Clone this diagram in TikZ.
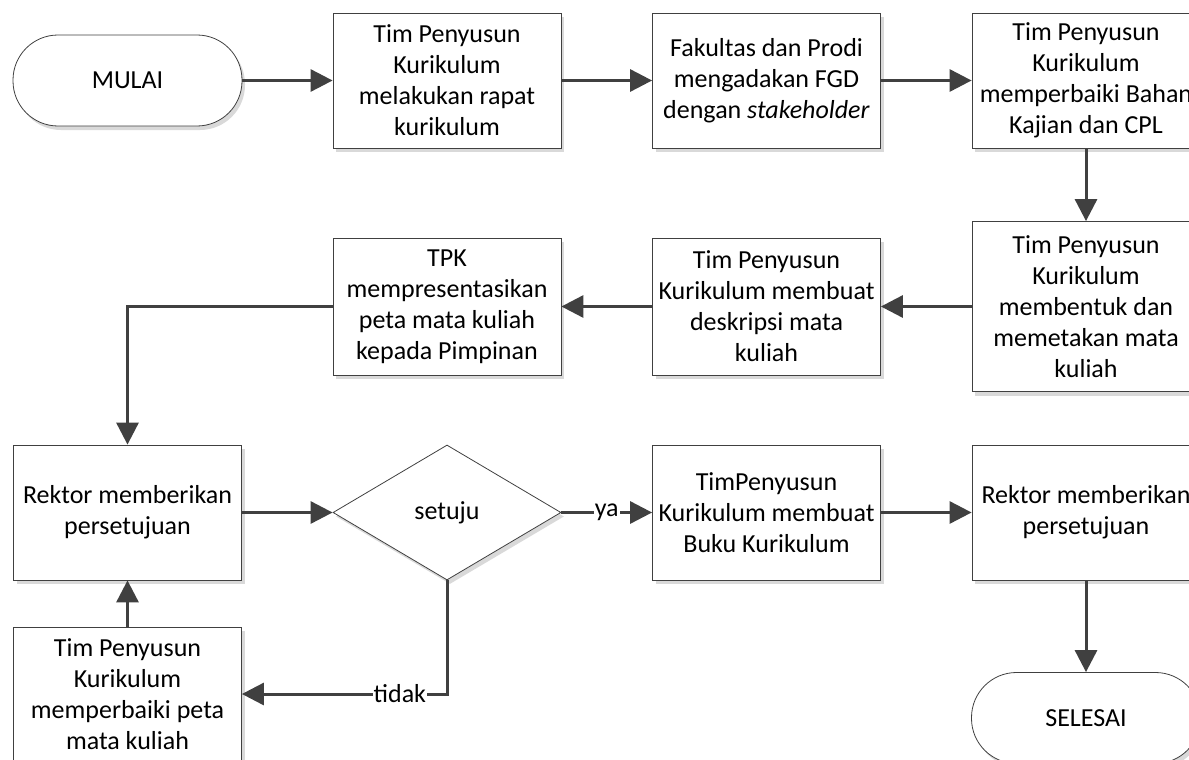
\documentclass[tikz,border=0pt]{standalone}
\usepackage{fontspec}
\setmainfont{Carlito}
\usetikzlibrary{shapes.geometric,shadows,arrows.meta}
\definecolor{ln}{HTML}{404040}
\begin{document}
\begin{tikzpicture}[x=1pt,y=-1pt,
 every node/.style={font=\fontsize{26}{31}\selectfont, text=black},
 sh/.style={drop shadow={shadow xshift=3pt,shadow yshift=-4pt,fill=black!15,opacity=1}},
 box/.style={draw=ln, line width=0.8pt, fill=white, sh, align=center, minimum width=228pt, minimum height=135pt, inner sep=1pt},
 term/.style={draw=ln, line width=0.8pt, fill=white, sh, rounded corners=45pt, minimum width=229pt, minimum height=91pt},
 dec/.style={diamond, draw=ln, line width=0.8pt, fill=white, sh, aspect=1.69, minimum width=228pt, minimum height=135pt, inner sep=0pt},
 arr/.style={draw=ln, line width=3pt, -{Triangle[length=22pt,width=22pt]}},
 lbl/.style={fill=white, inner sep=1pt}]
\clip (0,0) rectangle (1189,760);
\node[term] (mulai) at (127.5,80.5) {MULAI};
\node[box] (b1) at (447,80.5) {Tim Penyusun\\Kurikulum\\melakukan rapat\\kurikulum};
\node[box] (b2) at (766.5,80.5) {Fakultas dan Prodi\\mengadakan FGD\\dengan \textit{stakeholder}};
\node[box] (b3) at (1086,80.5) {Tim Penyusun\\Kurikulum\\memperbaiki Bahan\\Kajian dan CPL};
\node[box, minimum height=170pt] (b4) at (1086,306.5) {Tim Penyusun\\Kurikulum\\membentuk dan\\memetakan mata\\kuliah};
\node[box, minimum height=137pt] (b5) at (766.5,306.5) {Tim Penyusun\\Kurikulum membuat\\deskripsi mata\\kuliah};
\node[box, minimum height=137pt] (b6) at (447,306.5) {TPK\\mempresentasikan\\peta mata kuliah\\kepada Pimpinan};
\node[box] (r1) at (127.5,512.5) {Rektor memberikan\\persetujuan};
\node[dec] (d) at (447,512.5) {setuju};
\node[box] (b7) at (766.5,512.5) {TimPenyusun\\Kurikulum membuat\\Buku Kurikulum};
\node[box] (r2) at (1086,512.5) {Rektor memberikan\\persetujuan};
\node[term] (sel) at (1086,718) {SELESAI};
\node[box, minimum height=134pt] (fix) at (127.5,694) {Tim Penyusun\\Kurikulum\\memperbaiki peta\\mata kuliah};
\draw[arr] (mulai) -- (b1);
\draw[arr] (b1) -- (b2);
\draw[arr] (b2) -- (b3);
\draw[arr] (b3) -- (b4);
\draw[arr] (b4) -- (b5);
\draw[arr] (b5) -- (b6);
\draw[arr] (b6.west) -| (r1.north);
\draw[arr] (r1) -- (d);
\draw[arr] (d) -- node[lbl]{ya} (b7);
\draw[arr] (b7) -- (r2);
\draw[arr] (r2) -- (sel);
\draw[arr] (fix) -- (r1);
\draw[arr] (d.south) |- node[lbl,pos=0.615]{tidak} (fix.east);
\end{tikzpicture}
\end{document}
